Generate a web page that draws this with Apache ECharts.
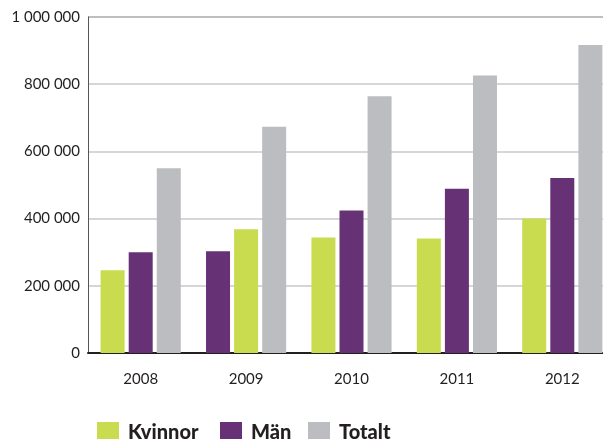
<!DOCTYPE html>
<html>
<head>
<meta charset="utf-8">
<script src="https://cdn.jsdelivr.net/npm/echarts@6/dist/echarts.min.js"></script>
<style>
  html, body { margin: 0; padding: 0; background: #fff; }
  #chart { width: 603px; height: 439px; }
</style>
</head>
<body>
<div id="chart"></div>
<script>
// years on the x axis
const years = ['2008', '2009', '2010', '2011', '2012'];
// bar values (2009 draws Män before Kvinnor in the source)
const kvinnor = [246000, 368000, 344000, 341000, 400000];
const man = [300000, 303000, 424000, 489000, 521000];
const totalt = [550000, 673000, 764000, 826000, 917000];

const GREEN = '#c9dc4f';
const PURPLE = '#663275';
const GREY = '#bcbdc0';
const font = 'Lato, "Open Sans", sans-serif';

const chart = echarts.init(document.getElementById('chart'));

// 2009 in the source draws Män first and Kvinnor second
const slot1 = years.map((y, i) => y === '2009'
    ? { value: man[i], itemStyle: { color: PURPLE } }
    : kvinnor[i]);
const slot2 = years.map((y, i) => y === '2009'
    ? { value: kvinnor[i], itemStyle: { color: GREEN } }
    : man[i]);

const legendBase = {
    top: 417,
    itemWidth: 22,
    itemHeight: 22,
    itemGap: 0,
    icon: 'rect',
    selectedMode: false,
    textStyle: { fontFamily: font, fontWeight: 900, fontSize: 20, color: '#231f20', padding: [5, 0, 0, 4] }
};

chart.setOption({
    animation: false,
    // plot runs past the right edge of the picture, as in the source
    grid: { left: 88, top: 17, width: 527, bottom: 86, outerBoundsMode: 'none' },
    legend: [
        Object.assign({}, legendBase, { left: 92, data: ['Kvinnor'] }),
        Object.assign({}, legendBase, { left: 215, data: ['Män'] }),
        Object.assign({}, legendBase, { left: 303, data: ['Totalt'] })
    ],
    xAxis: {
        type: 'category',
        data: years,
        axisLine: { lineStyle: { color: '#231f20', width: 2 } },
        axisTick: { show: false },
        axisLabel: { fontFamily: font, fontSize: 15, color: '#231f20', margin: 19 }
    },
    yAxis: {
        type: 'value',
        min: 0,
        max: 1000000,
        interval: 200000,
        axisLine: { show: true, lineStyle: { color: '#55565a', width: 1 } },
        axisTick: { show: false },
        splitLine: { lineStyle: { color: ['#c8c9cb', '#c8c9cb', '#c8c9cb', '#c8c9cb', '#c8c9cb', '#a7a9ac'], width: 1.5 } },
        axisLabel: {
            fontFamily: font, fontSize: 15, color: '#231f20', margin: 8,
            formatter: v => String(v).replace(/\B(?=(\d{3})+(?!\d))/g, ' ')
        }
    },
    series: [
        { name: 'Kvinnor', type: 'bar', data: slot1, barWidth: 24, barGap: '17%', itemStyle: { color: GREEN } },
        { name: 'Män', type: 'bar', data: slot2, barWidth: 24, barGap: '17%', itemStyle: { color: PURPLE } },
        { name: 'Totalt', type: 'bar', data: totalt, barWidth: 24, barGap: '17%', itemStyle: { color: GREY } }
    ]
});
</script>
</body>
</html>
